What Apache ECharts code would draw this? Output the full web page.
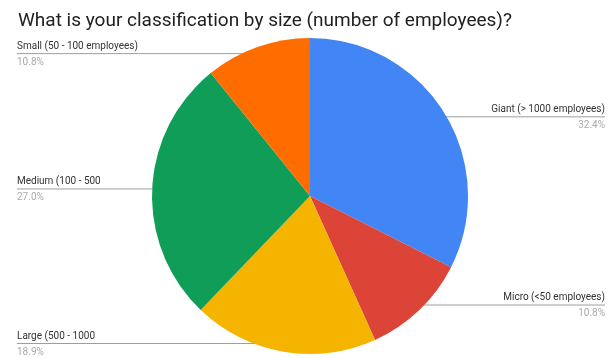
<!DOCTYPE html>
<html>
<head>
<meta charset="utf-8">
<script src="https://cdn.jsdelivr.net/npm/echarts@6/dist/echarts.min.js"></script>
<style>html,body{margin:0;padding:0;background:#fff;}#c{width:614px;height:358px;}</style>
</head>
<body>
<div id="c"></div>
<script>
const titleText = 'What is your classification by size (number of employees)?';
const categories = ['Giant (> 1000 employees)', 'Micro (<50 employees)', 'Large (500 - 1000', 'Medium (100 - 500', 'Small (50 - 100 employees)'];
const counts = [12, 4, 7, 10, 4];
const colors = ['#4285F4', '#DB4437', '#F4B400', '#0F9D58', '#FF6D00'];
const sides = ['right', 'right', 'left', 'left', 'left'];

const chart = echarts.init(document.getElementById('c'));
const center = [310, 196];

const pieData = categories.map((n, i) => ({ name: n, value: counts[i], itemStyle: { color: colors[i] } }));
const labelData = categories.map((n, i) => ({
  name: n, value: counts[i],
  label: { edgeDistance: sides[i] === 'left' ? 17 : 9 }
}));

chart.setOption({
  animation: false,
  title: {
    text: titleText, left: 13, top: 7,
    textStyle: { fontFamily: 'Roboto', fontWeight: 'normal', fontSize: 19, color: '#212121' }
  },
  series: [
    {
      type: 'pie', center: center, radius: 158, startAngle: 90, clockwise: true,
      silent: true, label: { show: false }, labelLine: { show: false },
      itemStyle: { borderWidth: 0 },
      data: pieData
    },
    {
      type: 'pie', center: center, radius: 151, startAngle: 90, clockwise: true,
      silent: true,
      itemStyle: { color: 'rgba(0,0,0,0)', borderWidth: 0 },
      label: {
        show: true, position: 'outer', alignTo: 'edge',
        padding: [2, 0, 0, 0],
        formatter: p => '{n|' + p.name + '}\n{p|' + p.percent.toFixed(1) + '%}',
        rich: {
          n: { fontFamily: 'Roboto', fontSize: 10, color: '#333333', lineHeight: 15 },
          p: { fontFamily: 'Roboto', fontSize: 10, color: '#aaaaaa', lineHeight: 17 }
        }
      },
      labelLine: { show: true, length: 0, length2: 10, lineStyle: { color: '#9e9e9e', width: 1 } },
      labelLayout: function (params) {
        const pts = params.labelLinePoints;
        if (!pts) return {};
        const r = params.labelRect;
        const np = pts.map(p => [p[0], p[1]]);
        const last = np[np.length - 1];
        const isLeft = (r.x + r.width / 2) < center[0];
        last[0] = isLeft ? r.x : r.x + r.width;
        return { labelLinePoints: np };
      },
      data: labelData
    }
  ]
});
</script>
</body>
</html>
